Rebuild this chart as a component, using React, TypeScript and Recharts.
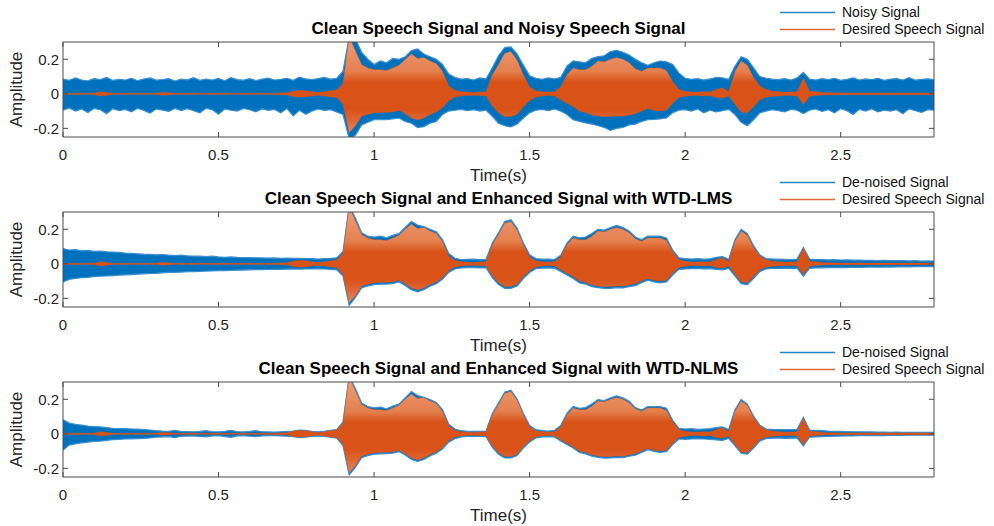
import React from 'react';
import { ComposedChart, Area, XAxis, YAxis, Legend } from 'recharts';

// Envelope samples every 20 ms, in milli-amplitude units (value / 1000).
const SAMPLE_STEP_S = 0.02;
const UNITS = 1000;

// Desired (clean) speech: upper / lower envelope
const SPEECH_HI = [
  4, 3, 4, 3, 4, 4, 12, 8, 4, 3,
  3, 4, 3, 4, 3, 4, 8, 6, 4, 3,
  3, 4, 3, 4, 3, 3, 4, 3, 4, 3,
  3, 4, 4, 3, 4, 5, 6, 15, 20, 18,
  12, 8, 12, 18, 22, 60, 330, 250, 170, 150,
  140, 140, 135, 150, 165, 200, 230, 205, 210, 190,
  175, 130, 45, 20, 12, 10, 8, 10, 12, 110,
  170, 235, 245, 195, 110, 40, 18, 12, 10, 12,
  40, 110, 150, 140, 140, 160, 190, 185, 200, 210,
  200, 180, 145, 130, 150, 150, 150, 135, 70, 25,
  15, 10, 10, 12, 10, 25, 35, 12, 130, 190,
  165, 95, 45, 25, 15, 12, 10, 10, 12, 90,
  15, 12, 8, 6, 6, 5, 5, 5, 5, 5,
  5, 5, 5, 5, 5, 5, 5, 5, 5, 5,
  5,
];
const SPEECH_LO = [
  -4, -3, -4, -4, -3, -4, -12, -9, -4, -3,
  -4, -3, -4, -3, -4, -3, -8, -6, -3, -4,
  -3, -4, -3, -3, -4, -3, -4, -3, -3, -4,
  -3, -4, -3, -4, -4, -5, -6, -15, -20, -17,
  -12, -8, -12, -18, -22, -60, -225, -185, -130, -118,
  -110, -108, -107, -105, -95, -115, -140, -152, -140, -120,
  -105, -80, -40, -18, -12, -10, -8, -10, -12, -70,
  -110, -132, -132, -118, -75, -40, -18, -12, -10, -12,
  -35, -55, -75, -100, -108, -122, -128, -133, -132, -128,
  -130, -122, -116, -100, -85, -95, -100, -95, -55, -22,
  -14, -10, -10, -12, -10, -22, -25, -12, -60, -105,
  -110, -75, -35, -20, -14, -12, -10, -10, -12, -62,
  -14, -10, -7, -6, -6, -5, -5, -5, -5, -5,
  -5, -5, -5, -5, -5, -5, -5, -5, -5, -5,
  -5,
];

// Noisy input signal
const NOISY_HI = [
  85, 78, 92, 80, 75, 88, 82, 95, 78, 84,
  80, 90, 76, 86, 92, 79, 83, 88, 74, 85,
  81, 93, 78, 85, 80, 89, 76, 94, 82, 79,
  88, 77, 85, 91, 80, 84, 90, 78, 97, 86,
  82, 88, 95, 85, 90, 130, 330, 320, 240, 200,
  170, 190, 180, 205, 200, 215, 250, 260, 230, 215,
  200, 170, 115, 95, 85, 88, 80, 92, 86, 150,
  220, 268, 272, 230, 165, 105, 90, 84, 92, 86,
  95, 160, 190, 185, 180, 205, 215, 220, 245, 252,
  240, 225, 200, 180, 165, 180, 190, 185, 170, 120,
  90, 84, 88, 80, 86, 95, 92, 84, 160, 215,
  200, 150, 100, 90, 85, 82, 88, 80, 92, 125,
  85, 80, 88, 82, 90, 78, 84, 92, 80, 86,
  82, 90, 78, 85, 88, 80, 93, 79, 84, 87,
  82,
];
const NOISY_LO = [
  -95, -82, -100, -88, -108, -85, -92, -115, -86, -98,
  -90, -105, -84, -96, -112, -88, -94, -102, -85, -97,
  -86, -98, -110, -84, -92, -118, -88, -95, -100, -85,
  -92, -104, -87, -96, -90, -110, -85, -128, -95, -118,
  -100, -88, -96, -92, -105, -120, -260, -240, -180, -165,
  -150, -148, -150, -145, -140, -160, -170, -195, -190, -170,
  -160, -120, -100, -95, -90, -98, -92, -100, -95, -130,
  -170, -185, -192, -175, -140, -110, -95, -90, -98, -88,
  -100, -120, -150, -160, -168, -175, -185, -195, -212, -200,
  -195, -180, -175, -160, -150, -148, -145, -140, -110, -95,
  -92, -100, -88, -110, -95, -105, -98, -90, -120, -165,
  -185, -150, -110, -100, -92, -98, -105, -90, -95, -115,
  -95, -88, -102, -92, -110, -86, -98, -120, -90, -100,
  -88, -105, -95, -100, -92, -115, -87, -98, -108, -92,
  -95,
];

// Output of the WTD-LMS filter
const LMS_HI = [
  88, 80, 82, 75, 78, 72, 74, 70, 68, 66,
  62, 60, 58, 56, 55, 52, 54, 50, 48, 50,
  46, 45, 44, 42, 44, 40, 38, 40, 37, 36,
  36, 35, 34, 33, 34, 32, 33, 31, 32, 30,
  30, 28, 30, 32, 35, 70, 335, 265, 180, 160,
  155, 160, 150, 165, 175, 210, 245, 225, 215, 200,
  185, 140, 60, 32, 25, 26, 27, 24, 26, 120,
  180, 245, 255, 205, 120, 52, 30, 27, 28, 25,
  50, 120, 160, 150, 155, 175, 200, 195, 210, 222,
  210, 190, 155, 140, 160, 160, 160, 150, 80, 35,
  30, 28, 30, 27, 29, 38, 42, 26, 140, 200,
  175, 105, 52, 30, 28, 27, 26, 25, 28, 95,
  28, 25, 24, 23, 24, 22, 23, 21, 22, 20,
  20, 19, 20, 18, 19, 18, 17, 18, 16, 17,
  16,
];
const LMS_LO = [
  -105, -90, -85, -80, -78, -74, -72, -70, -68, -66,
  -64, -62, -60, -58, -56, -55, -52, -50, -50, -48,
  -46, -45, -44, -42, -41, -40, -40, -38, -37, -36,
  -35, -34, -34, -33, -32, -32, -31, -30, -31, -30,
  -30, -29, -30, -32, -35, -70, -240, -195, -140, -128,
  -120, -118, -117, -115, -105, -125, -150, -162, -150, -130,
  -115, -90, -50, -30, -24, -22, -22, -24, -22, -80,
  -120, -142, -142, -128, -85, -50, -28, -25, -24, -25,
  -45, -65, -85, -110, -118, -132, -138, -143, -142, -138,
  -140, -132, -126, -110, -95, -105, -110, -105, -65, -32,
  -30, -28, -27, -29, -28, -32, -35, -27, -70, -115,
  -120, -85, -45, -30, -27, -26, -25, -26, -25, -72,
  -26, -24, -23, -22, -22, -21, -22, -20, -21, -20,
  -19, -20, -18, -19, -18, -17, -18, -17, -16, -17,
  -16,
];

// Output of the WTD-NLMS filter
const NLMS_HI = [
  82, 62, 55, 50, 45, 42, 40, 36, 32, 30,
  30, 28, 27, 25, 22, 18, 16, 15, 20, 14,
  13, 12, 14, 18, 12, 11, 15, 20, 12, 11,
  14, 18, 12, 11, 10, 12, 14, 16, 22, 20,
  14, 12, 15, 20, 24, 68, 335, 262, 178, 158,
  150, 155, 145, 160, 172, 208, 245, 222, 212, 198,
  182, 140, 55, 28, 18, 15, 14, 15, 16, 118,
  178, 242, 252, 202, 118, 48, 24, 18, 16, 20,
  48, 118, 158, 148, 152, 172, 198, 192, 208, 220,
  208, 188, 152, 138, 158, 158, 158, 148, 78, 32,
  28, 30, 26, 28, 30, 36, 40, 25, 140, 198,
  172, 102, 50, 28, 26, 25, 24, 25, 26, 95,
  22, 20, 18, 16, 15, 14, 13, 12, 12, 11,
  11, 10, 10, 9, 10, 9, 9, 8, 8, 8,
  8,
];
const NLMS_LO = [
  -95, -65, -58, -52, -48, -44, -42, -38, -34, -32,
  -30, -29, -28, -26, -24, -20, -18, -16, -22, -14,
  -13, -12, -15, -18, -12, -11, -16, -20, -12, -11,
  -14, -17, -12, -11, -10, -12, -14, -16, -22, -19,
  -15, -12, -15, -20, -25, -68, -238, -195, -138, -126,
  -118, -116, -115, -112, -103, -122, -148, -160, -148, -128,
  -112, -88, -48, -28, -18, -15, -14, -15, -16, -78,
  -118, -140, -140, -126, -82, -48, -24, -18, -16, -18,
  -42, -62, -82, -108, -116, -130, -136, -141, -140, -136,
  -138, -130, -124, -108, -92, -102, -108, -103, -62, -30,
  -32, -30, -28, -30, -32, -35, -38, -26, -68, -112,
  -118, -82, -42, -28, -25, -24, -26, -25, -24, -70,
  -20, -18, -17, -15, -14, -13, -12, -12, -11, -11,
  -10, -10, -10, -9, -9, -9, -8, -8, -8, -8,
  -8,
];

const TIME_S = SPEECH_HI.map((_, i) => Math.round(i * SAMPLE_STEP_S * 100) / 100);

const X_TICKS = [0, 0.5, 1, 1.5, 2, 2.5];
const Y_TICKS = [-0.2, 0, 0.2];
const X_DOMAIN: [number, number] = [0, 2.8];
const Y_DOMAIN: [number, number] = [-0.25, 0.3];

const BLUE = '#0072BD';
const BLUE_EDGE = '#3b8fd0';
const ORANGE = '#D95319';
const AXIS = '#4a4a4a';
const TEXT = '#262626';
const SPEECH_NAME = 'Desired Speech Signal';

const PANELS = [
  { title: 'Clean Speech Signal and Noisy Speech Signal', name: 'Noisy Signal', hi: NOISY_HI, lo: NOISY_LO },
  { title: 'Clean Speech Signal and Enhanced Signal with WTD-LMS', name: 'De-noised Signal', hi: LMS_HI, lo: LMS_LO },
  { title: 'Clean Speech Signal and Enhanced Signal with WTD-NLMS', name: 'De-noised Signal', hi: NLMS_HI, lo: NLMS_LO },
];

function buildRows(hi: number[], lo: number[]) {
  return TIME_S.map((t, i) => ({
    t,
    signal: [lo[i] / UNITS, hi[i] / UNITS],
    speech: [SPEECH_LO[i] / UNITS, SPEECH_HI[i] / UNITS],
  }));
}

const titleLabel = (text: string) => (props: any) => {
  const vb = props.viewBox || {};
  return (
    <text x={vb.x + vb.width / 2} y={vb.y + vb.height - 8} textAnchor="middle"
      fontSize={17} fontWeight="bold" fill="#000">{text}</text>
  );
};

const timeLabel = (props: any) => {
  const vb = props.viewBox || {};
  return (
    <text x={vb.x + vb.width / 2} y={vb.y + 43.5} textAnchor="middle" fontSize={17} fill={TEXT}>Time(s)</text>
  );
};

const ampLabel = (props: any) => {
  const vb = props.viewBox || {};
  const x = vb.x + 9;
  const y = vb.y + vb.height / 2;
  return (
    <text x={x} y={y} transform={`rotate(-90 ${x} ${y})`} textAnchor="middle" fontSize={17} fill={TEXT}>Amplitude</text>
  );
};

function LegendRows({ names }: { names: { label: string; color: string }[] }) {
  return (
    <div style={{ fontSize: 14, color: '#111', lineHeight: '17px' }}>
      {names.map((n) => (
        <div key={n.label} style={{ display: 'flex', alignItems: 'center', height: 17 }}>
          <svg width={56} height={17} style={{ display: 'block' }}>
            <line x1={1} x2={56} y1={8.5} y2={8.5} stroke={n.color} strokeWidth={1.4} opacity={0.85} />
          </svg>
          <span style={{ marginLeft: 7, whiteSpace: 'nowrap' }}>{n.label}</span>
        </div>
      ))}
    </div>
  );
}

function Panel({ idx }: { idx: number }) {
  const p = PANELS[idx];
  const rows = buildRows(p.hi, p.lo);
  const gradId = `speechFill${idx}`;
  const tickStyle = { fill: TEXT, fontSize: 15 };
  return (
    <div style={{ position: 'absolute', left: 0, top: idx * 170, width: 994, height: 186 }}>
      <ComposedChart width={994} height={186} data={rows} margin={{ top: 12, right: 0, bottom: 9, left: 13 }}>
        <defs>
          {/* voiced peaks read lighter than the dense core of the speech trace */}
          <linearGradient id={gradId} x1="0" y1="0" x2="0" y2="1">
            <stop offset="0" stopColor="#eda07c" />
            <stop offset="0.36" stopColor="#e5804f" />
            <stop offset="0.47" stopColor={ORANGE} />
            <stop offset="0.76" stopColor={ORANGE} />
            <stop offset="0.88" stopColor="#df6938" />
            <stop offset="1" stopColor="#e68a5f" />
          </linearGradient>
        </defs>
        <XAxis xAxisId="b" dataKey="t" type="number" domain={X_DOMAIN} allowDataOverflow ticks={X_TICKS}
          interval={0} orientation="bottom" height={40} tickSize={-5} tickMargin={17} stroke={AXIS}
          tick={tickStyle} label={timeLabel} />
        <XAxis xAxisId="t" dataKey="t" type="number" domain={X_DOMAIN} allowDataOverflow ticks={X_TICKS}
          interval={0} orientation="top" height={30} tickSize={-5} tickFormatter={() => ''} stroke={AXIS}
          label={titleLabel(p.title)} />
        <YAxis yAxisId="l" type="number" domain={Y_DOMAIN} allowDataOverflow ticks={Y_TICKS} interval={0}
          width={50} tickSize={-5} tickMargin={9} stroke={AXIS} tick={tickStyle} label={ampLabel} />
        <YAxis yAxisId="r" orientation="right" type="number" domain={Y_DOMAIN} allowDataOverflow ticks={Y_TICKS}
          interval={0} width={60} tickSize={-5} tickFormatter={() => ''} stroke={AXIS} />
        <Area xAxisId="b" yAxisId="l" name={p.name} dataKey="signal" type="linear" stroke={BLUE_EDGE}
          strokeWidth={1.2} fill={BLUE} fillOpacity={1} dot={false} activeDot={false} isAnimationActive={false} />
        <Area xAxisId="b" yAxisId="l" name={SPEECH_NAME} dataKey="speech" type="linear" stroke={ORANGE}
          strokeWidth={0.6} strokeOpacity={0.7} fill={`url(#${gradId})`} fillOpacity={1} dot={false}
          activeDot={false} isAnimationActive={false} />
        <Legend layout="vertical" align="center" verticalAlign="middle"
          wrapperStyle={{ top: 4, left: 779, width: 215 }}
          content={() => (
            <LegendRows names={[{ label: p.name, color: BLUE }, { label: SPEECH_NAME, color: ORANGE }]} />
          )} />
      </ComposedChart>
    </div>
  );
}

export default function App() {
  return (
    <div style={{ position: 'absolute', left: 0, top: 0, width: 994, height: 526, background: '#fff',
      fontFamily: '"Liberation Sans", Arial, Helvetica, sans-serif' }}>
      {PANELS.map((_, i) => (
        <Panel key={i} idx={i} />
      ))}
    </div>
  );
}
